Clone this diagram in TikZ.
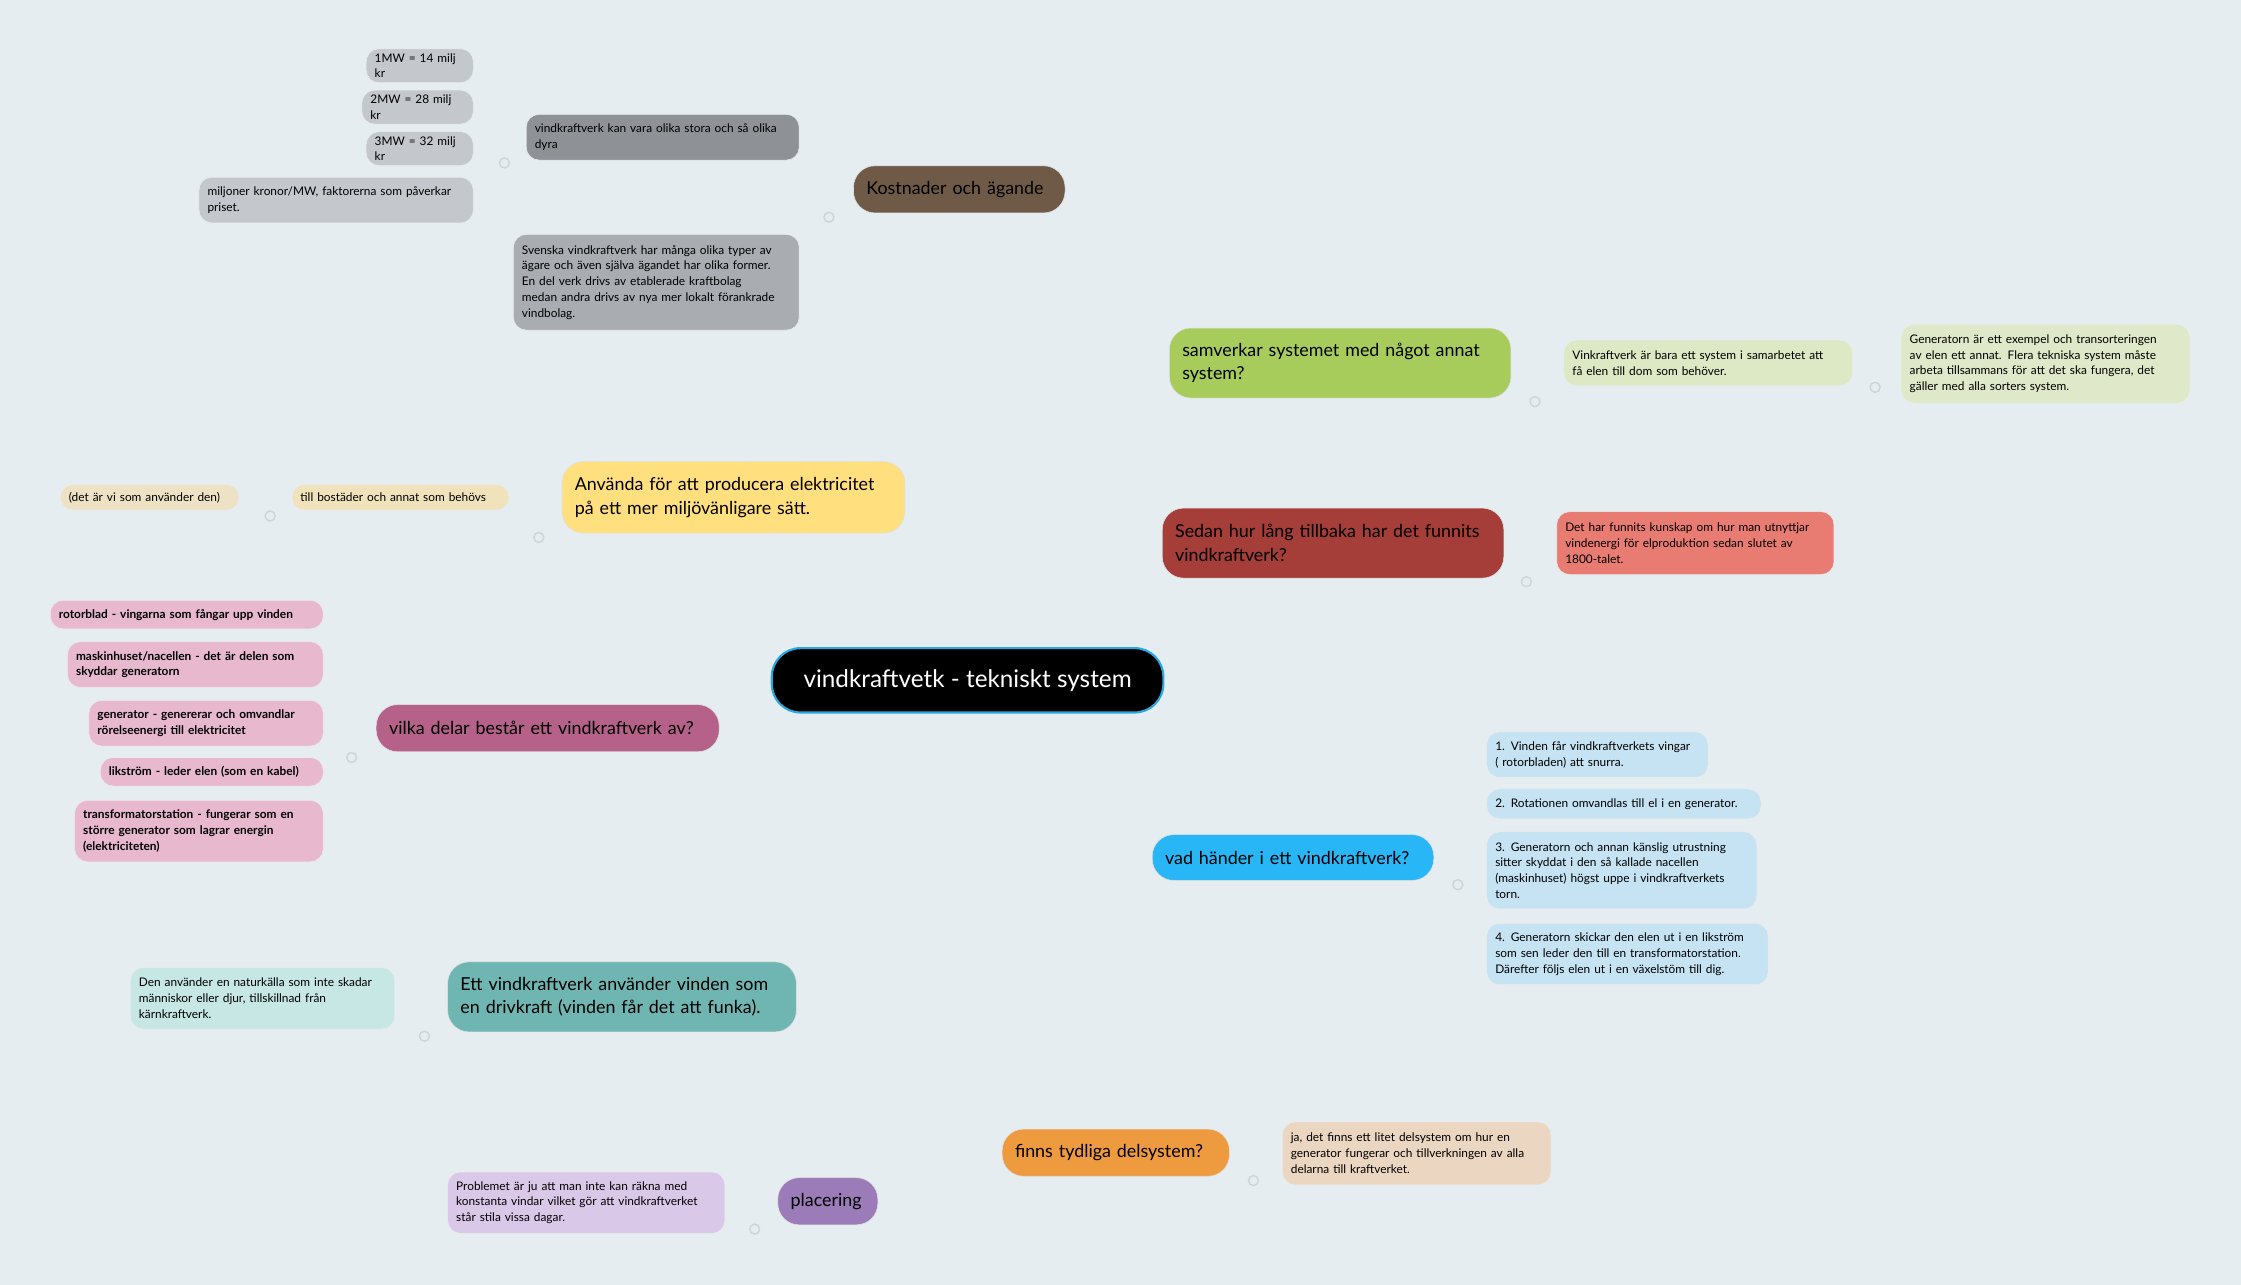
\documentclass[tikz,border=0pt]{standalone}
\usepackage{fontspec}
\setmainfont{Lato}
\usetikzlibrary{backgrounds}

\definecolor{bg}{HTML}{E6EDF1}
\definecolor{linkc}{HTML}{CDD5DA}

\tikzset{
  main/.style={rounded corners=15pt, draw=black!12, anchor=west, inner xsep=9pt, align=left,
    font=\fontsize{12.5}{16.5}\selectfont},
  leaf/.style={rounded corners=9pt, draw=black!8, anchor=west, inner xsep=6pt, align=left,
    font=\fontsize{8.3}{11}\selectfont},
  part/.style={leaf, fill=partc, font=\fontsize{8.3}{11}\selectfont\bfseries},
  link/.style={linkc, line width=1.1pt},
  knot/.style={linkc, line width=1pt, fill=bg},
}
\definecolor{partc}{HTML}{E8B8CF}

\begin{document}
\begin{tikzpicture}[x=1pt,y=-1pt, show background rectangle,
  background rectangle/.style={fill=bg, draw=none}, inner frame sep=0pt]
\useasboundingbox (0,0) rectangle (1568,899);

% centre
\node[rounded corners=20pt, fill=black, draw={rgb,255:red,41;green,168;blue,224}, line width=1.5pt,
  minimum width=274, minimum height=45, text=white, font=\fontsize{17}{20}\selectfont] (ctr) at (677,476)
  {vindkraftvetk - tekniskt system};
\coordinate (cu) at (677,458);
\coordinate (cd) at (677,494);

% right side
\node[main, fill={rgb,255:red,168;green,204;blue,92}, minimum height=49, text width=221] (samv) at (818,254)
  {samverkar systemet med något annat\\system?};
\node[leaf, fill={rgb,255:red,221;green,232;blue,196}, minimum height=32, text width=190] (samv1) at (1094,254)
  {Vinkraftverk är bara ett system i samarbetet att\\få elen till dom som behöver.};
\node[leaf, fill={rgb,255:red,223;green,232;blue,200}, minimum height=55, text width=190] (samv2) at (1330,254.5)
  {Generatorn är ett exempel och transorteringen\\av elen ett annat. Flera tekniska system måste\\arbeta tillsammans för att det ska fungera, det\\gäller med alla sorters system.};

\node[main, fill={rgb,255:red,165;green,62;blue,56}, minimum height=49, text width=221] (sedan) at (813,380)
  {Sedan hur lång tillbaka har det funnits\\vindkraftverk?};
\node[leaf, fill={rgb,255:red,232;green,124;blue,114}, minimum height=44, text width=182] (sedan1) at (1089,380)
  {Det har funnits kunskap om hur man utnyttjar\\vindenergi för elproduktion sedan slutet av\\1800-talet.};

\node[main, fill={rgb,255:red,41;green,182;blue,246}, minimum height=32, text width=179] (vad) at (806,600)
  {vad händer i ett vindkraftverk?};
\node[leaf, fill={rgb,255:red,197;green,227;blue,243}, minimum height=32, text width=143] (vad1) at (1040,528)
  {1. Vinden får vindkraftverkets vingar\\( rotorbladen) att snurra.};
\node[leaf, fill={rgb,255:red,197;green,227;blue,243}, minimum height=21, text width=180] (vad2) at (1040,562.5)
  {2. Rotationen omvandlas till el i en generator.};
\node[leaf, fill={rgb,255:red,197;green,227;blue,243}, minimum height=54, text width=177] (vad3) at (1040,609)
  {3. Generatorn och annan känslig utrustning\\sitter skyddat i den så kallade nacellen\\(maskinhuset) högst uppe i vindkraftverkets\\torn.};
\node[leaf, fill={rgb,255:red,197;green,227;blue,243}, minimum height=43, text width=185] (vad4) at (1040,667.5)
  {4. Generatorn skickar den elen ut i en likström\\som sen leder den till en transformatorstation.\\Därefter följs elen ut i en växelstöm till dig.};

\node[main, fill={rgb,255:red,238;green,154;blue,62}, minimum height=33, text width=141] (finns) at (701,806.5)
  {finns tydliga delsystem?};
\node[leaf, fill={rgb,255:red,234;green,214;blue,193}, minimum height=44, text width=176] (finns1) at (897,807)
  {ja, det finns ett litet delsystem om hur en\\generator fungerar och tillverkningen av alla\\delarna till kraftverket.};

% left side
\node[main, fill={rgb,255:red,110;green,90;blue,71}, minimum height=33, text width=130] (kost) at (597,132.5)
  {Kostnader och ägande};
\node[leaf, fill={rgb,255:red,142;green,145;blue,150}, minimum height=32, text width=179] (kost1) at (368,96)
  {vindkraftverk kan vara olika stora och så olika\\dyra};
\node[leaf, fill={rgb,255:red,196;green,199;blue,203}, minimum height=20, text width=63] (mw1) at (256,46) {1MW = 14 milj kr};
\node[leaf, fill={rgb,255:red,196;green,199;blue,203}, minimum height=20, text width=66] (mw2) at (253,75) {2MW = 28 milj kr};
\node[leaf, fill={rgb,255:red,196;green,199;blue,203}, minimum height=20, text width=63] (mw3) at (256,104) {3MW = 32 milj kr};
\node[leaf, fill={rgb,255:red,196;green,199;blue,203}, minimum height=32, text width=180] (mw4) at (139,140)
  {miljoner kronor/MW, faktorerna som påverkar\\priset.};
\node[leaf, fill={rgb,255:red,169;green,172;blue,176}, minimum height=67, text width=188] (kost2) at (359,197.5)
  {Svenska vindkraftverk har många olika typer av\\ägare och även själva ägandet har olika former.\\En del verk drivs av etablerade kraftbolag\\medan andra drivs av nya mer lokalt förankrade\\vindbolag.};

\node[main, fill={rgb,255:red,255;green,223;blue,126}, minimum height=50, text width=222] (anv) at (393,348)
  {Använda för att producera elektricitet\\på ett mer miljövänligare sätt.};
\node[leaf, fill={rgb,255:red,240;green,227;blue,188}, minimum height=18, text width=140] (anv1) at (204,348)
  {till bostäder och annat som behövs};
\node[leaf, fill={rgb,255:red,237;green,226;blue,195}, minimum height=18, text width=113] (anv2) at (42,348)
  {(det är vi som använder den)};

\node[main, fill={rgb,255:red,181;green,97;blue,137}, minimum height=33, text width=222] (vilka) at (263,509.5)
  {vilka delar består ett vindkraftverk av?};
\node[part, minimum height=20, text width=179] (p1) at (35,430) {rotorblad - vingarna som fångar upp vinden};
\node[part, minimum height=32, text width=167] (p2) at (47,465) {maskinhuset/nacellen - det är delen som\\skyddar generatorn};
\node[part, minimum height=32, text width=152] (p3) at (62,506) {generator - genererar och omvandlar\\rörelseenergi till elektricitet};
\node[part, minimum height=20, text width=144] (p4) at (70,540) {likström - leder elen (som en kabel)};
\node[part, minimum height=43, text width=162] (p5) at (52,581.5) {transformatorstation - fungerar som en\\större generator som lagrar energin\\(elektriciteten)};

\node[main, fill={rgb,255:red,111;green,181;blue,178}, minimum height=49, text width=226] (ett) at (313,697.5)
  {Ett vindkraftverk använder vinden som\\en drivkraft (vinden får det att funka).};
\node[leaf, fill={rgb,255:red,199;green,231;blue,229}, minimum height=43, text width=173] (ett1) at (91,698.5)
  {Den använder en naturkälla som inte skadar\\människor eller djur, tillskillnad från\\kärnkraftverk.};

\node[main, fill={rgb,255:red,155;green,123;blue,184}, minimum height=33, text width=52] (plac) at (544,840.5)
  {placering};
\node[leaf, fill={rgb,255:red,218;green,200;blue,232}, minimum height=43, text width=182] (plac1) at (313,841.5)
  {Problemet är ju att man inte kan räkna med\\konstanta vindar vilket gör att vindkraftverket\\står stila vissa dagar.};

% knots
\coordinate (ksamv) at (1074,281);
\coordinate (ksamv1) at (1312,271);
\coordinate (ksedan) at (1068,407);
\coordinate (kvad) at (1020,619);
\coordinate (kfinns) at (877,826);
\coordinate (kkost) at (580,152);
\coordinate (kkost1) at (353,114);
\coordinate (kanv) at (377,376);
\coordinate (kanv1) at (189,361);
\coordinate (kvilka) at (246,530);
\coordinate (kett) at (297,725);
\coordinate (kplac) at (528,860);

\begin{scope}[on background layer]
  % underlines
  \draw[link] ([yshift=-2pt]samv.south west) -- (ksamv);
  \draw[link] ([yshift=-2pt]samv1.south west) -- (ksamv1);
  \draw[link] ([yshift=-2pt]sedan.south west) -- (ksedan);
  \draw[link] ([yshift=-2pt]vad.south west) -- (kvad);
  \draw[link] ([yshift=-2pt]finns.south west) -- (kfinns);
  \draw[link] (kkost) -- ([yshift=-2pt]kost.south east);
  \draw[link] (kkost1) -- ([yshift=-2pt]kost1.south east);
  \draw[link] (kanv) -- ([yshift=-2pt]anv.south east);
  \draw[link] (kanv1) -- ([yshift=-2pt]anv1.south east);
  \draw[link] (kvilka) -- ([yshift=-2pt]vilka.south east);
  \draw[link] (kett) -- ([yshift=-2pt]ett.south east);
  \draw[link] (kplac) -- ([yshift=-2pt]plac.south east);
  \foreach \n in {samv2,sedan1,vad1,vad2,vad3,vad4,finns1,mw1,mw2,mw3,mw4,kost2,anv2,p1,p2,p3,p4,p5,ett1,plac1}
    \draw[link] ([yshift=-2pt]\n.south west) -- ([yshift=-2pt]\n.south east);

  % from the centre
  \draw[link] (cu) .. controls (700,330) and (740,281) .. ([yshift=-2pt]samv.south west);
  \draw[link] (cu) .. controls (705,410) and (745,407) .. ([yshift=-2pt]sedan.south west);
  \draw[link] (cd) .. controls (705,600) and (745,619) .. ([yshift=-2pt]vad.south west);
  \draw[link] (cd) .. controls (683,720) and (680,826) .. ([yshift=-2pt]finns.south west);
  \draw[link] (cu) .. controls (640,300) and (585,220) .. (kkost);
  \draw[link] (cu) .. controls (665,420) and (655,376) .. ([yshift=-2pt]anv.south east);
  \draw[link] (cd) .. controls (640,525) and (570,530) .. ([yshift=-2pt]vilka.south east);
  \draw[link] (cd) .. controls (640,640) and (615,725) .. ([yshift=-2pt]ett.south east);
  \draw[link] (cd) .. controls (600,650) and (505,770) .. (kplac);

  % to the leaves
  \draw[link, rounded corners=10pt] (ksamv) |- ([yshift=-2pt]samv1.south west);
  \draw[link, rounded corners=10pt] (ksamv1) |- ([yshift=-2pt]samv2.south west);
  \draw[link, rounded corners=3pt] (ksedan) |- ([yshift=-2pt]sedan1.south west);
  \foreach \n in {vad1,vad2,vad3,vad4}
    \draw[link, rounded corners=10pt] (kvad) -- ++(5,0) |- ([yshift=-2pt]\n.south west);
  \draw[link, rounded corners=3pt] (kfinns) |- ([yshift=-2pt]finns1.south west);
  \foreach \n in {kost1,kost2}
    \draw[link, rounded corners=14pt] (kkost) |- ([yshift=-2pt]\n.south east);
  \foreach \n in {mw1,mw2,mw3,mw4}
    \draw[link, rounded corners=10pt] (kkost1) -- ++(-7,0) |- ([yshift=-2pt]\n.south east);
  \draw[link, rounded corners=10pt] (kanv) |- ([yshift=-2pt]anv1.south east);
  \draw[link] (kanv1) -- ([yshift=-2pt]anv2.south east);
  \foreach \n in {p1,p2,p3,p4,p5}
    \draw[link, rounded corners=10pt] (kvilka) -- ++(-5,0) |- ([yshift=-2pt]\n.south east);
  \draw[link, rounded corners=3pt] (kett) |- ([yshift=-2pt]ett1.south east);
  \draw[link, rounded corners=3pt] (kplac) |- ([yshift=-2pt]plac1.south east);
\end{scope}

\foreach \k in {ksamv,ksamv1,ksedan,kvad,kfinns,kkost,kkost1,kanv,kanv1,kvilka,kett,kplac}
  \draw[knot] (\k) circle (3.5pt);
\end{tikzpicture}
\end{document}
